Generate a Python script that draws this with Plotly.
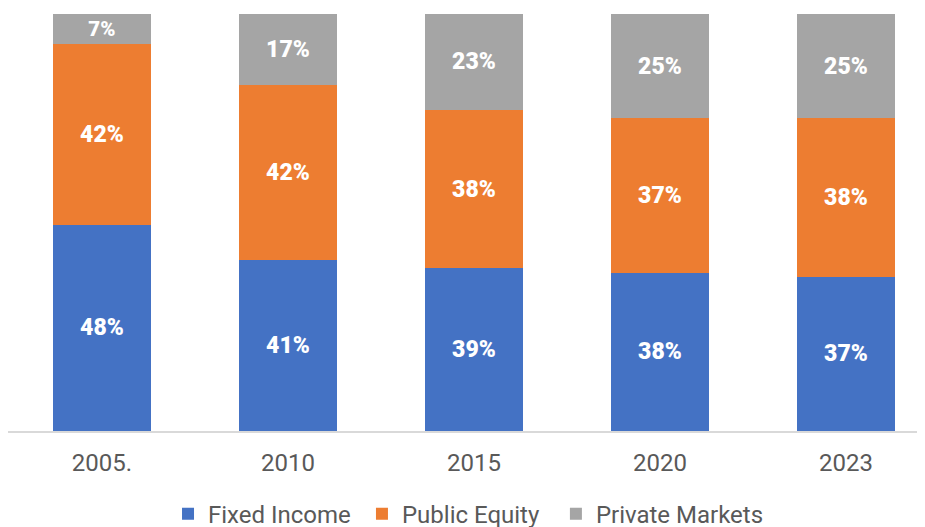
import plotly.graph_objects as go

years = ["2005.", "2010", "2015", "2020", "2023"]
fixed_income = [48, 41, 39, 38, 37]
public_equity = [42, 42, 38, 37, 38]
private_markets = [7, 17, 23, 25, 25]

series = [
    ("Fixed Income", fixed_income, "#4472C4", "legend", 0.1745),
    ("Public Equity", public_equity, "#ED7D31", "legend2", 0.386),
    ("Private Markets", private_markets, "#A5A5A5", "legend3", 0.5975),
]

fig = go.Figure()
legend_layouts = {}
for name, vals, color, leg, lx in series:
    fig.add_trace(go.Bar(
        x=years, y=vals, name=name,
        marker=dict(color=color, line=dict(width=0)),
        text=[f"{v}%" for v in vals],
        texttemplate="%{text}",
        textposition="inside",
        insidetextanchor="middle",
        textangle=0,
        textfont=dict(family="Roboto", size=23, color="white", weight=900),
        hoverinfo="skip",
        legend=leg,
    ))
    legend_layouts[leg] = dict(
        orientation="h",
        x=lx, xanchor="left",
        yref="container", y=0.025, yanchor="middle",
        font=dict(family="Roboto", size=24, color="#595959"),
        itemwidth=30,
        bgcolor="rgba(0,0,0,0)",
    )

fig.update_layout(
    barmode="stack",
    barnorm="percent",
    bargap=0.47,
    width=917, height=519,
    margin=dict(l=0, r=0, t=6, b=96),
    paper_bgcolor="white",
    plot_bgcolor="white",
    font=dict(family="Roboto", color="#595959"),
    showlegend=True,
    xaxis=dict(
        range=[-0.505, 4.425],
        showgrid=False,
        showline=True, linecolor="#D9D9D9", linewidth=1.5,
        ticks="",
        tickfont=dict(family="Roboto", size=24, color="#595959"),
        ticklabelstandoff=9,
    ),
    yaxis=dict(
        range=[0, 100],
        visible=False,
        showgrid=False,
    ),
    **legend_layouts,
)

fig.write_html("out.html")
